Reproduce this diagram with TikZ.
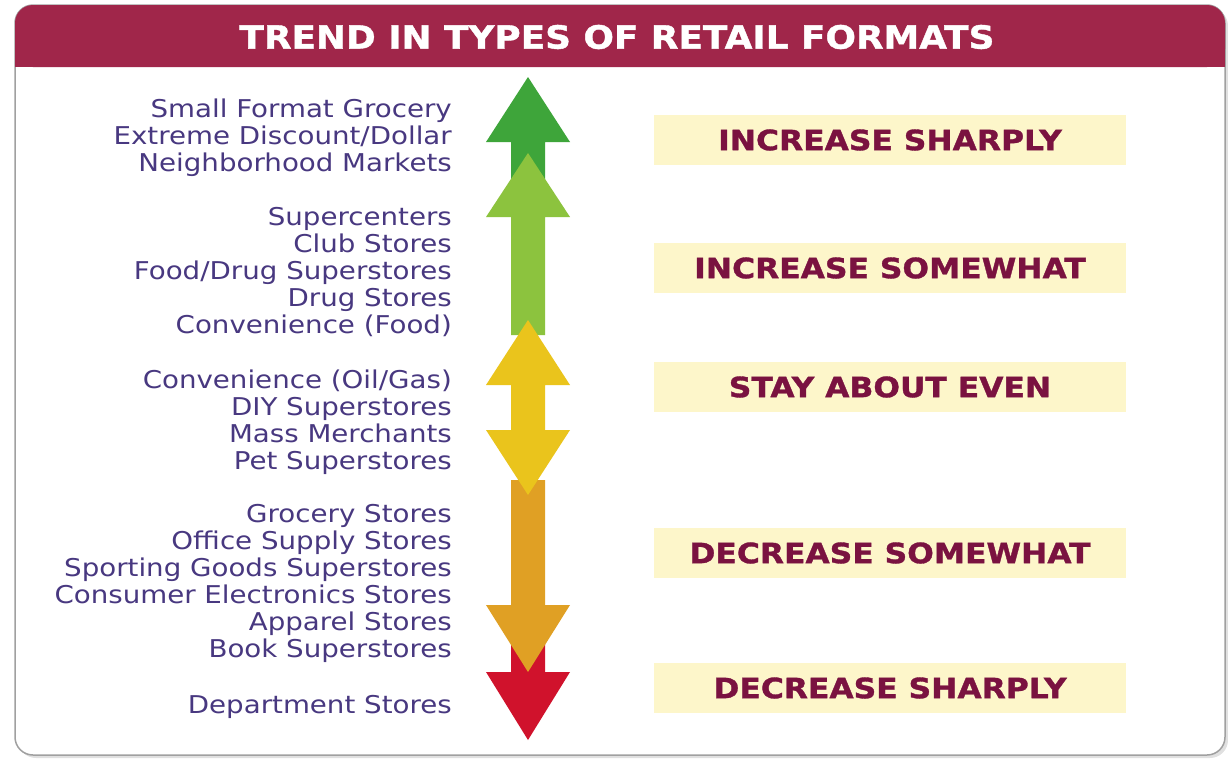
\documentclass[tikz,border=0pt]{standalone}
\usepackage{fontspec}
\newfontfamily\itemfont{DejaVu Sans}[FakeStretch=1.13]
\newfontfamily\headfont{DejaVu Sans}[FakeStretch=1.12,BoldFeatures={FakeBold=1.2}]
\definecolor{headred}{RGB}{160,38,74}
\definecolor{itemcol}{RGB}{72,56,128}
\definecolor{labcol}{RGB}{122,18,64}
\definecolor{labfill}{RGB}{253,246,202}
\definecolor{dgreen}{RGB}{62,165,58}
\definecolor{lgreen}{RGB}{140,195,62}
\definecolor{ayellow}{RGB}{234,196,28}
\definecolor{aorange}{RGB}{224,160,36}
\definecolor{ared}{RGB}{208,18,44}
\definecolor{framegray}{RGB}{160,160,160}
\tikzset{
  itemtext/.style={font=\itemfont\fontsize{24.5}{27}\selectfont, text=itemcol, inner sep=0pt, anchor=base east},
  labbox/.style={font=\headfont\bfseries\fontsize{28}{30}\selectfont, text=labcol, fill=labfill, minimum width=472pt, minimum height=50pt, inner sep=0pt}
}
\begin{document}
\begin{tikzpicture}[x=1pt,y=-1pt]
\useasboundingbox (0,0) rectangle (1228,758);
% panel
\fill[black!12, rounded corners=18pt] (18,8) rectangle (1228,758);
\draw[framegray, line width=1.5pt, fill=white, rounded corners=18pt] (15,5) rectangle (1225,755);
\fill[headred, rounded corners=18pt] (15,67) -- (15,5) -- (1225,5) -- (1225,67) -- cycle;
\fill[headred] (15,40) rectangle (1225,67);
\node[font=\headfont\bfseries\fontsize{32}{34}\selectfont, text=white, inner sep=0pt] (title) at (617,37) {TREND IN TYPES OF RETAIL FORMATS};
% arrows
\fill[dgreen] (528,77) -- (570,142) -- (545,142) -- (545,215) -- (511,215) -- (511,142) -- (486,142) -- cycle;
\fill[lgreen] (528,153) -- (570,217) -- (545,217) -- (545,335) -- (511,335) -- (511,217) -- (486,217) -- cycle;
\fill[ared] (511,640) -- (545,640) -- (545,672) -- (570,672) -- (528,740) -- (486,672) -- (511,672) -- cycle;
\fill[aorange] (511,480) -- (545,480) -- (545,605) -- (570,605) -- (528,672) -- (486,605) -- (511,605) -- cycle;
\fill[ayellow] (528,320) -- (570,385) -- (545,385) -- (545,430) -- (570,430) -- (528,495) -- (486,430) -- (511,430) -- (511,385) -- (486,385) -- cycle;
% label boxes
\node[labbox] (l1) at (890,140) {INCREASE SHARPLY};
\node[labbox] (l2) at (890,268) {INCREASE SOMEWHAT};
\node[labbox] (l3) at (890,387) {STAY ABOUT EVEN};
\node[labbox] (l4) at (890,553) {DECREASE SOMEWHAT};
\node[labbox] (l5) at (890,688) {DECREASE SHARPLY};
% items
\node[itemtext] (i1) at (452,117) {Small Format Grocery};
\node[itemtext] (i2) at (452,144) {Extreme Discount/Dollar};
\node[itemtext] (i3) at (452,171) {Neighborhood Markets};
\node[itemtext] (i4) at (452,225) {Supercenters};
\node[itemtext] (i5) at (452,252) {Club Stores};
\node[itemtext] (i6) at (452,279) {Food/Drug Superstores};
\node[itemtext] (i7) at (452,306) {Drug Stores};
\node[itemtext] (i8) at (452,333) {Convenience (Food)};
\node[itemtext] (i9) at (452,388) {Convenience (Oil/Gas)};
\node[itemtext] (i10) at (452,415) {DIY Superstores};
\node[itemtext] (i11) at (452,442) {Mass Merchants};
\node[itemtext] (i12) at (452,469) {Pet Superstores};
\node[itemtext] (i13) at (452,522) {Grocery Stores};
\node[itemtext] (i14) at (452,549) {Office Supply Stores};
\node[itemtext] (i15) at (452,576) {Sporting Goods Superstores};
\node[itemtext] (i16) at (452,603) {Consumer Electronics Stores};
\node[itemtext] (i17) at (452,630) {Apparel Stores};
\node[itemtext] (i18) at (452,657) {Book Superstores};
\node[itemtext] (i19) at (452,713) {Department Stores};
\end{tikzpicture}
\end{document}
